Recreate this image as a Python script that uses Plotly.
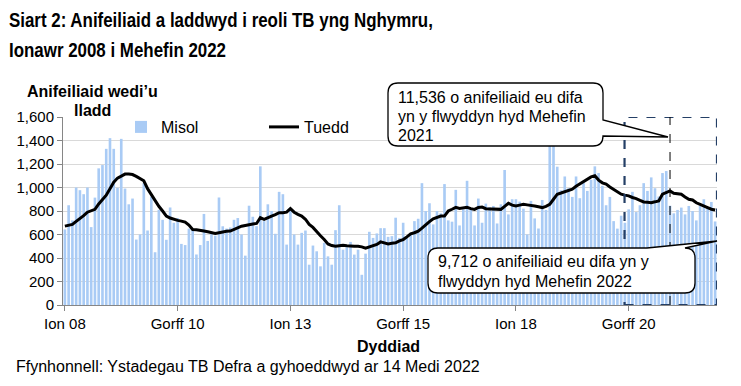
import pandas as pd
import plotly.graph_objects as go

# ---------------- data ----------------
months = list(pd.date_range("2008-01-01", periods=174, freq="MS").strftime("%Y-%m"))

monthly = [
    643, 849, 720, 1000, 977, 943, 1000, 663, 914, 1163, 1191, 1329,
    1420, 1329, 997, 1414, 991, 857, 906, 557, 600, 1037, 634, 923,
    449, 810, 725, 555, 830, 700, 740, 520, 510, 650, 645, 430,
    510, 775, 545, 610, 590, 915, 670, 650, 660, 725, 740, 600,
    420, 845, 751, 671, 1180, 714, 857, 800, 606, 963, 943, 514,
    820, 600, 514, 614, 634, 343, 506, 457, 329, 529, 414, 343,
    637, 849, 471, 491, 537, 429, 471, 257, 437, 623, 571, 609,
    654, 654, 580, 586, 743, 571, 700, 571, 614, 714, 734, 1037,
    800, 866, 686, 800, 780, 1029, 720, 709, 980, 677, 814, 1057,
    814, 677, 906, 700, 863, 834, 843, 694, 857, 1149, 771, 900,
    900, 880, 820, 600, 886, 737, 651, 894, 809, 1500, 1420, 1177,
    977, 1094, 994, 920, 1094, 909, 1037, 971, 1066, 1180, 1123, 1014,
    849, 920, 714, 650, 760, 700, 814, 963, 791, 849, 1037, 971,
    1086, 994, 923, 1123, 1140, 845, 780, 809, 829, 771, 843, 800,
    720, 843, 900, 829, 877, 711,
]

trend = [
    671, 678, 686, 712, 734, 760, 790, 805, 814, 860, 900, 935,
    990, 1045, 1080, 1100, 1114, 1114, 1110, 1095, 1075, 1057, 990, 940,
    886, 840, 800, 757, 740, 729, 720, 714, 705, 680, 643, 640,
    637, 630, 623, 615, 609, 615, 623, 627, 629, 643, 655, 671,
    677, 686, 690, 694, 743, 729, 740, 757, 770, 786, 786, 790,
    820, 790, 771, 757, 730, 686, 660, 629, 590, 557, 520, 506,
    500, 505, 509, 505, 500, 500, 500, 495, 483, 492, 500, 515,
    537, 530, 520, 525, 529, 545, 557, 580, 606, 615, 629, 655,
    686, 710, 734, 745, 757, 757, 800, 815, 831, 822, 829, 831,
    820, 814, 830, 834, 820, 817, 814, 814, 814, 840, 866, 850,
    843, 850, 857, 852, 849, 843, 836, 829, 840, 857, 900, 943,
    953, 963, 975, 986, 1010, 1029, 1050, 1070, 1090, 1100, 1063, 1040,
    1029, 1005, 986, 965, 943, 935, 929, 915, 906, 890, 877, 874,
    871, 878, 886, 943, 960, 971, 951, 947, 943, 920, 900, 894,
    870, 857, 840, 829, 815, 809,
]

tick_months = ["2008-01", "2010-07", "2013-01", "2015-07", "2018-01", "2020-07"]
tick_labels = ["Ion 08", "Gorff 10", "Ion 13", "Gorff 15", "Ion 18", "Gorff 20"]

y_ticks = [0, 200, 400, 600, 800, 1000, 1200, 1400, 1600]

title_lines = ["Siart 2: Anifeiliaid a laddwyd i reoli TB yng Nghymru,",
               "Ionawr 2008 i Mehefin 2022"]
ytitle_lines = ["Anifeiliaid wedi’u", "lladd"]
callout_2021 = ["11,536 o anifeiliaid eu difa", "yn y flwyddyn hyd Mehefin", "2021"]
callout_2022 = ["9,712 o anifeiliaid eu difa yn y", "flwyddyn hyd Mehefin 2022"]
source_text = "Ffynhonnell: Ystadegau TB Defra a gyhoeddwyd ar 14 Medi 2022"

# ---------------- layout helpers (pixels -> paper) ----------------
W, H = 741, 386
L, R, T, B = 63, 717, 117, 305


def px(x):
    return (x - L) / (R - L)


def py(y):
    return (B - y) / (B - T)


def path_px(cmds):
    out = []
    for c in cmds:
        if isinstance(c, str):
            out.append(c)
        else:
            out.append(f"{px(c[0]):.5f},{py(c[1]):.5f}")
    return " ".join(out)


FONT = "Liberation Sans, Arial, sans-serif"

fig = go.Figure()
fig.add_trace(go.Bar(
    x=months, y=monthly, name="Misol",
    marker=dict(color="#A9CBF5", line=dict(width=0)),
))
fig.add_trace(go.Scatter(
    x=months, y=trend, name="Tuedd", mode="lines",
    line=dict(color="black", width=3),
))

c1 = path_px([
    "M", (398, 83), "L", (593, 83), "Q", (603, 83), (603, 93),
    "L", (603, 120), "L", (668, 137), "L", (603, 136),
    "Q", (603, 146), (593, 146), "L", (398, 146),
    "Q", (388, 146), (388, 136), "L", (388, 93),
    "Q", (388, 83), (398, 83), "Z",
])
c2 = path_px([
    "M", (438, 248), "L", (647, 248), "L", (717, 241), "L", (685, 248),
    "Q", (695, 248), (695, 258), "L", (695, 283),
    "Q", (695, 293), (685, 293), "L", (438, 293),
    "Q", (428, 293), (428, 283), "L", (428, 258),
    "Q", (428, 248), (438, 248), "Z",
])

shapes = [
    dict(type="rect", xref="x", yref="y", x0=148.9, x1=173.5, y0=0, y1=1600,
         line=dict(color="#243F66", width=2.2, dash="dash"), layer="above"),
    dict(type="line", xref="x", yref="y", x0=161, x1=161, y0=0, y1=1600,
         line=dict(color="black", width=1, dash="dash"), layer="above"),
    dict(type="path", xref="paper", yref="paper", path=c1,
         fillcolor="white", line=dict(color="black", width=1.3), layer="above"),
    dict(type="path", xref="paper", yref="paper", path=c2,
         fillcolor="white", line=dict(color="black", width=1.3), layer="above"),
]


def note(text, x, y, size, xanchor="left", bold=False):
    return dict(text=f"<b>{text}</b>" if bold else text, xref="paper", yref="paper",
                x=px(x), y=py(y), xanchor=xanchor, yanchor="middle", align="left",
                showarrow=False, font=dict(family=FONT, size=size, color="black"))


annotations = [
    note(title_lines[0], 7, 19, 20.5, bold=True),
    note(title_lines[1], 7, 49, 20.5, bold=True),
    note(ytitle_lines[0], 92, 92, 16, xanchor="center", bold=True),
    note(ytitle_lines[1], 92, 110, 16, xanchor="center", bold=True),
    note("Dyddiad", 388, 346, 16, xanchor="center", bold=True),
    note(source_text, 14, 366, 16),
    note(callout_2021[0], 396, 97, 16),
    note(callout_2021[1], 396, 116, 16),
    note(callout_2021[2], 396, 135, 16),
    note(callout_2022[0], 436, 261, 16),
    note(callout_2022[1], 436, 281, 16),
]

fig.update_layout(
    width=W, height=H,
    margin=dict(l=L, r=W - R, t=T, b=H - B),
    paper_bgcolor="white", plot_bgcolor="white",
    bargap=0.3,
    font=dict(family=FONT, size=15, color="black"),
    showlegend=True,
    legend=dict(orientation="h", x=px(121), y=py(110), xanchor="left", yanchor="top",
                bgcolor="rgba(0,0,0,0)", font=dict(size=16), entrywidth=98,
                itemwidth=30, traceorder="normal"),
    shapes=shapes,
    annotations=annotations,
)
fig.update_xaxes(
    type="category", range=[-0.5, 173.5],
    tickmode="array", tickvals=tick_months, ticktext=tick_labels,
    ticks="outside", ticklen=5, tickcolor="#868686",
    showline=True, linecolor="#868686", linewidth=1,
    showgrid=False, tickfont=dict(size=15), tickangle=0,
)
fig.update_yaxes(
    range=[0, 1600], tickvals=y_ticks, tickformat=",",
    ticks="outside", ticklen=5, tickcolor="#868686",
    showline=True, linecolor="#868686", linewidth=1,
    showgrid=True, gridcolor="#D9D9D9", gridwidth=1,
    tickfont=dict(size=15), zeroline=False,
)

post = """
document.body.style.margin='0';document.body.style.padding='0';
function narrowTitle(){
  document.querySelectorAll('.annotation-text').forEach(function(t){
    var s = t.textContent || '';
    if (s.indexOf('Siart 2') === 0 || s.indexOf('Ionawr 2008') === 0) {
      t.style.transformBox = 'fill-box';
      t.style.transformOrigin = 'left center';
      t.style.transform = 'scaleX(0.825)';
    }
  });
}
narrowTitle();
setTimeout(narrowTitle, 50);
"""

fig.write_html("out.html", post_script=post, config={"displayModeBar": False})
